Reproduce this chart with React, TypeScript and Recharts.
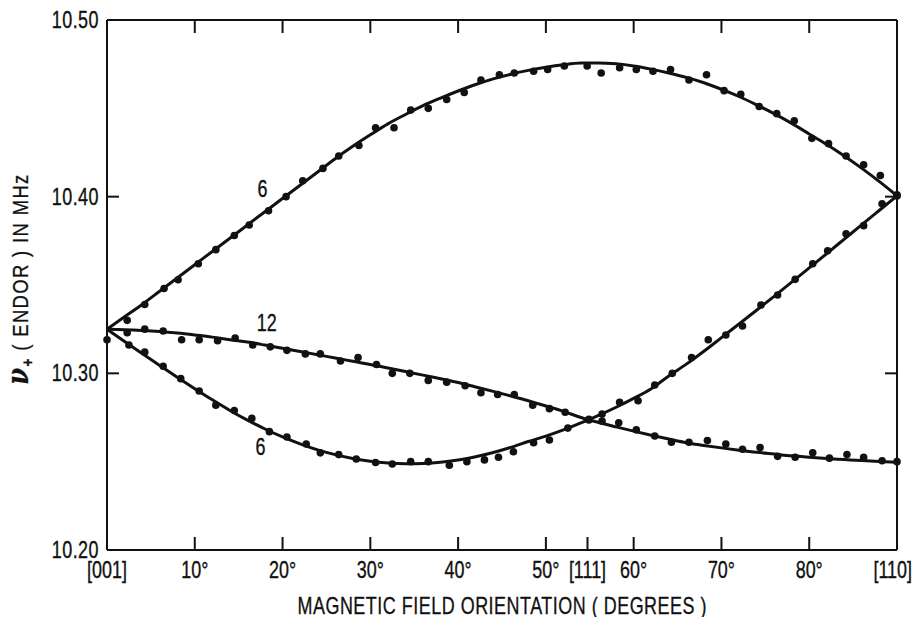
import { ComposedChart, Line, ReferenceDot, Scatter, XAxis, YAxis } from "recharts";

const INK = "#111";
const FONT = "'Liberation Sans', Arial, sans-serif";
const SQUEEZE = 0.78; // the original lettering is a condensed face

// fitted curves, sampled every 2 degrees
const lineAngles = [
  0, 2, 4, 6, 8, 10, 12, 14, 16, 18, 20, 22, 24, 26, 28, 30, 32, 34, 36, 38, 40, 42, 44,
  46, 48, 50, 52, 54, 56, 58, 60, 62, 64, 66, 68, 70, 72, 74, 76, 78, 80, 82, 84, 86, 88, 90,
];
const upperFit = [
  10.3249, 10.332, 10.339, 10.3465, 10.354, 10.3615, 10.369, 10.3765, 10.384, 10.3915,
  10.399, 10.4065, 10.414, 10.4215, 10.4285, 10.435, 10.4412, 10.4465, 10.4515, 10.4558,
  10.4598, 10.4635, 10.4667, 10.4693, 10.4715, 10.4733, 10.4747, 10.4756, 10.4757, 10.4752,
  10.474, 10.4722, 10.47, 10.4675, 10.4645, 10.4608, 10.4567, 10.452, 10.447, 10.4415,
  10.4355, 10.4295, 10.423, 10.416, 10.4085, 10.4005,
];
const lowerFit = [
  10.3249, 10.318, 10.3112, 10.3045, 10.2978, 10.2913, 10.285, 10.279, 10.2735, 10.2685,
  10.264, 10.2601, 10.2567, 10.254, 10.2518, 10.2502, 10.2492, 10.2488, 10.249, 10.2497,
  10.251, 10.2528, 10.2552, 10.2581, 10.2614, 10.2645, 10.268, 10.272, 10.2762, 10.2808,
  10.2858, 10.2913, 10.2985, 10.3052, 10.3125, 10.3202, 10.3279, 10.3357, 10.3436, 10.3516,
  10.3597, 10.3678, 10.376, 10.3842, 10.3923, 10.4004,
];
const twelveFit = [
  10.3249, 10.3247, 10.3243, 10.3237, 10.3228, 10.3217, 10.3205, 10.319, 10.3177, 10.316,
  10.3142, 10.3124, 10.3105, 10.3087, 10.3068, 10.305, 10.303, 10.301, 10.299, 10.2969,
  10.2948, 10.2923, 10.2898, 10.2872, 10.2845, 10.2815, 10.2785, 10.275, 10.2722, 10.2697,
  10.2673, 10.265, 10.2628, 10.2607, 10.2592, 10.2578, 10.2565, 10.2553, 10.2543, 10.2533,
  10.2525, 10.2518, 10.2512, 10.2506, 10.2501, 10.2497,
];

// measured ENDOR points [angle, MHz]
const upperDots = [
  [2.3, 10.33], [4.3, 10.339], [6.5, 10.348], [8.1, 10.353], [10.4, 10.362], [12.4, 10.37],
  [14.5, 10.378], [16.2, 10.384], [18.4, 10.392], [20.4, 10.4], [22.3, 10.409], [24.6, 10.416],
  [26.4, 10.423], [28.7, 10.429], [30.6, 10.439], [32.7, 10.439], [34.6, 10.449], [36.6, 10.45],
  [38.7, 10.455], [40.7, 10.459], [42.6, 10.466], [44.7, 10.469], [46.4, 10.47], [48.6, 10.471],
  [50.2, 10.472], [52.1, 10.474], [54.7, 10.474], [56.3, 10.47], [58.4, 10.473], [60.3, 10.472],
  [62.2, 10.471], [64.2, 10.472], [66.3, 10.466], [68.3, 10.469], [70.3, 10.46], [72.2, 10.458],
  [74.3, 10.451], [76.3, 10.447], [78.3, 10.443], [80.3, 10.433], [82.2, 10.43], [84.2, 10.423],
  [86.2, 10.418], [88.1, 10.412], [90, 10.401],
];
const twelveDots = [
  [0, 10.319], [2.3, 10.323], [4.3, 10.325], [6.4, 10.324], [8.5, 10.319], [10.5, 10.319],
  [12.6, 10.3185], [14.6, 10.32], [16.6, 10.316], [18.6, 10.315], [20.5, 10.313], [22.6, 10.311],
  [24.3, 10.311], [26.6, 10.307], [28.6, 10.309], [30.7, 10.305], [32.5, 10.3], [34.5, 10.3],
  [36.6, 10.296], [38.7, 10.295], [40.8, 10.293], [42.6, 10.289], [44.5, 10.288], [46.4, 10.288],
  [48.5, 10.282], [50.4, 10.28], [52.2, 10.278], [54.9, 10.274], [56.4, 10.273], [58.3, 10.272],
  [60.3, 10.268], [62.4, 10.2645], [64.3, 10.261], [66.3, 10.261], [68.4, 10.262], [70.5, 10.26],
  [72.4, 10.257], [74.4, 10.258], [76.4, 10.253], [78.4, 10.2525], [80.4, 10.255], [82.3, 10.252],
  [84.3, 10.254], [86.2, 10.2525], [88.3, 10.2505], [90, 10.25],
];
const lowerDots = [
  [2.5, 10.316], [4.3, 10.312], [6.4, 10.304], [8.4, 10.297], [10.5, 10.29], [12.4, 10.282],
  [14.5, 10.279], [16.5, 10.2745], [18.5, 10.267], [20.5, 10.264], [22.7, 10.26], [24.3, 10.255],
  [26.4, 10.254], [28.4, 10.2515], [30.6, 10.2495], [32.5, 10.2487], [34.6, 10.25], [36.6, 10.25],
  [39.0, 10.248], [41.0, 10.25], [43.0, 10.251], [44.6, 10.2525], [46.3, 10.2556], [48.6, 10.2607],
  [50.4, 10.2623], [52.5, 10.269], [54.9, 10.2736], [56.4, 10.277], [58.4, 10.2836], [60.5, 10.2845],
  [62.4, 10.2934], [64.4, 10.3], [66.6, 10.309], [68.5, 10.319], [70.5, 10.3217], [72.4, 10.3268],
  [74.5, 10.3387], [76.4, 10.3443], [78.4, 10.3532], [80.4, 10.362], [82.1, 10.3694], [84.2, 10.379],
  [86.2, 10.3836], [88.3, 10.396], [90, 10.4004],
];

const xTicks = [0, 10, 20, 30, 40, 50, 54.74, 60, 70, 80, 90];
const xTickLabels = ["[001]", "10°", "20°", "30°", "40°", "50°", "[111]", "60°", "70°", "80°", "[110]"];
const topTicks = [10, 20, 30, 40, 50, 60, 70, 80];
const yTicks = [10.2, 10.3, 10.4, 10.5];

// multiplicity labels next to the curves
const curveLabels = [
  { a: 17.7, v: 10.4042, text: "6" },
  { a: 18.2, v: 10.3283, text: "12" },
  { a: 17.5, v: 10.2585, text: "6" },
];

const toPoints = (values: number[]) => lineAngles.map((a, i) => ({ a, v: values[i] }));
const toDots = (pairs: number[][]) => pairs.map(([a, v]) => ({ a, v }));

const dot = (p: any) => <circle cx={p.cx} cy={p.cy} r={3.8} fill={INK} />;

function Narrow({ x, y, anchor = "middle", size = 23, spacing = 0, children }: any) {
  return (
    <text
      transform={`translate(${x},${y}) scale(${SQUEEZE},1)`}
      textAnchor={anchor}
      fontFamily={FONT}
      fontSize={size}
      letterSpacing={spacing}
      fill={INK}
      stroke={INK}
      strokeWidth={0.35}
    >
      {children}
    </text>
  );
}

function BottomTick({ x, y, payload }: any) {
  const i = xTicks.indexOf(payload.value);
  const inner = payload.value > 0 && payload.value < 90;
  const last = payload.value === 90;
  return (
    <g>
      {inner && <line x1={x} x2={x} y1={y} y2={y - 13} stroke={INK} strokeWidth={2} />}
      <Narrow x={last ? x + 15 : x} y={y + 28} anchor={last ? "end" : "middle"}>
        {xTickLabels[i]}
      </Narrow>
    </g>
  );
}

function TopTick({ x, y }: any) {
  return <line x1={x} x2={x} y1={y} y2={y + 13} stroke={INK} strokeWidth={2} />;
}

function LeftTick({ x, y, payload }: any) {
  const inner = payload.value > 10.25 && payload.value < 10.45;
  return (
    <g>
      {inner && <line x1={x} x2={x + 12} y1={y} y2={y} stroke={INK} strokeWidth={2} />}
      <Narrow x={x - 8} y={y + 8} anchor="end" spacing={0.6}>
        {payload.value.toFixed(2)}
      </Narrow>
    </g>
  );
}

function RightTick({ x, y }: any) {
  return <line x1={x} x2={x - 12} y1={y} y2={y} stroke={INK} strokeWidth={2} />;
}

function YTitle() {
  return (
    <text
      transform={`translate(28,279) rotate(-90) scale(0.84,1)`}
      textAnchor="middle"
      fontFamily={FONT}
      fontSize={22}
      fill={INK}
      stroke={INK}
      strokeWidth={0.3}
      letterSpacing={1.6}
    >
      <tspan fontFamily="'DejaVu Serif', serif" fontStyle="italic" fontWeight="bold" fontSize={29}>ν</tspan>
      <tspan fontWeight="bold" fontSize={16} dy={5}>+</tspan>
      <tspan dy={-5}> ( ENDOR )  IN  MHz</tspan>
    </text>
  );
}

function XTitle() {
  return (
    <text
      transform={`translate(502,614) scale(${SQUEEZE},1)`}
      textAnchor="middle"
      fontFamily={FONT}
      fontSize={23}
      fill={INK}
      stroke={INK}
      strokeWidth={0.3}
      textLength={409 / SQUEEZE}
      lengthAdjust="spacing"
    >
      MAGNETIC FIELD ORIENTATION ( DEGREES )
    </text>
  );
}

function CurveLabel({ viewBox, value }: any) {
  const cx = viewBox.x + (viewBox.width || 0) / 2;
  const cy = viewBox.y + (viewBox.height || 0) / 2;
  return <Narrow x={cx} y={cy + 8}>{value}</Narrow>;
}

export default function App() {
  return (
    <div style={{ position: "absolute", left: 0, top: 0, width: 913, height: 617, background: "#fff" }}>
      <ComposedChart width={913} height={617} margin={{ top: 0, right: 0, bottom: 0, left: 0 }}>
        <XAxis
          xAxisId="bottom"
          dataKey="a"
          type="number"
          domain={[0, 90]}
          ticks={xTicks}
          interval={0}
          height={67}
          axisLine={{ stroke: INK, strokeWidth: 2 }}
          tickLine={false}
          tickSize={0}
          tickMargin={0}
          tick={<BottomTick />}
          label={<XTitle />}
        />
        <XAxis
          xAxisId="top"
          orientation="top"
          dataKey="a"
          type="number"
          domain={[0, 90]}
          ticks={topTicks}
          interval={0}
          height={20}
          axisLine={{ stroke: INK, strokeWidth: 2 }}
          tickLine={false}
          tickSize={0}
          tickMargin={0}
          tick={<TopTick />}
        />
        <YAxis
          yAxisId="left"
          dataKey="v"
          type="number"
          domain={[10.2, 10.5]}
          ticks={yTicks}
          interval={0}
          width={107}
          axisLine={{ stroke: INK, strokeWidth: 2 }}
          tickLine={false}
          tickSize={0}
          tickMargin={0}
          tick={<LeftTick />}
          label={<YTitle />}
        />
        <YAxis
          yAxisId="right"
          orientation="right"
          dataKey="v"
          type="number"
          domain={[10.2, 10.5]}
          ticks={[10.3, 10.4]}
          interval={0}
          width={16}
          axisLine={{ stroke: INK, strokeWidth: 2 }}
          tickLine={false}
          tickSize={0}
          tickMargin={0}
          tick={<RightTick />}
        />

        <Line xAxisId="bottom" yAxisId="left" data={toPoints(upperFit)} dataKey="v" type="monotone" stroke={INK} strokeWidth={3} dot={false} isAnimationActive={false} />
        <Line xAxisId="bottom" yAxisId="left" data={toPoints(lowerFit)} dataKey="v" type="monotone" stroke={INK} strokeWidth={3} dot={false} isAnimationActive={false} />
        <Line xAxisId="bottom" yAxisId="left" data={toPoints(twelveFit)} dataKey="v" type="monotone" stroke={INK} strokeWidth={3} dot={false} isAnimationActive={false} />

        <Scatter xAxisId="top" yAxisId="right" data={toDots(upperDots)} shape={dot} isAnimationActive={false} />
        <Scatter xAxisId="bottom" yAxisId="left" data={toDots(twelveDots)} shape={dot} isAnimationActive={false} />
        <Scatter xAxisId="bottom" yAxisId="left" data={toDots(lowerDots)} shape={dot} isAnimationActive={false} />

        {curveLabels.map((l, i) => (
          <ReferenceDot
            key={i}
            xAxisId="bottom"
            yAxisId="left"
            x={l.a}
            y={l.v}
            r={0}
            stroke="none"
            label={<CurveLabel value={l.text} />}
          />
        ))}
      </ComposedChart>
    </div>
  );
}
